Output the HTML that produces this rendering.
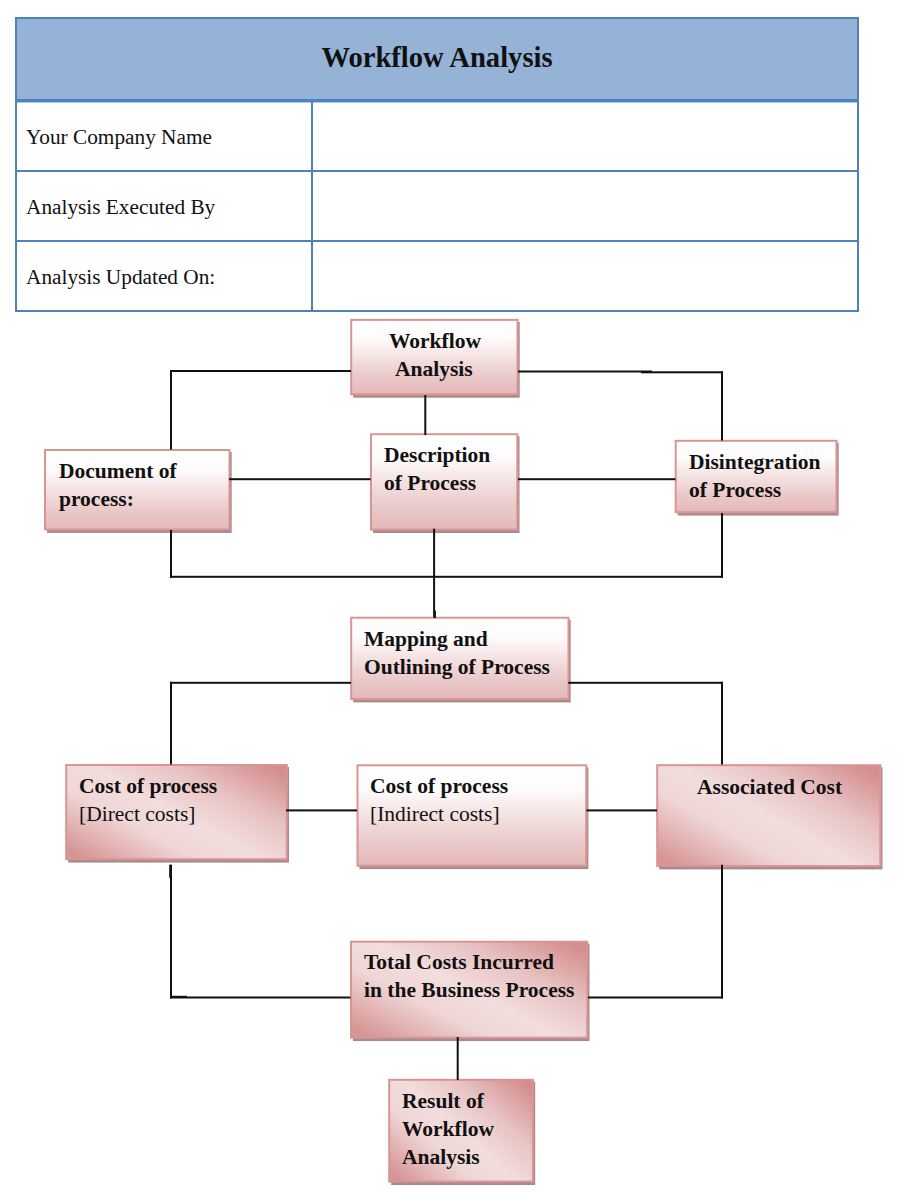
<!DOCTYPE html>
<html>
<head>
<meta charset="utf-8">
<style>
html,body{margin:0;padding:0;background:#fff;}
body{width:900px;height:1195px;position:relative;overflow:hidden;font-family:"Liberation Serif",serif;color:#111;}
.a{position:absolute;}
.dia{position:absolute;left:0;top:0;}
/* table */
.tb{position:absolute;background:#4F81BD;}
.hd{position:absolute;left:17px;top:19px;width:840px;height:80px;background:#95B3D7;}
.ttl{position:absolute;left:15px;top:0;width:844px;text-align:center;font-weight:bold;font-size:28.6px;}
.lbl{position:absolute;left:26px;font-size:21.3px;white-space:nowrap;}
/* boxes */
.t{position:absolute;font-weight:bold;font-size:21.5px;line-height:28px;white-space:nowrap;margin-top:1.5px;margin-left:-1px;}
.n{font-weight:normal;}
</style>
</head>
<body>
<!-- Table -->
<div class="tb" style="left:15px;top:17px;width:844px;height:295px;"></div>
<div class="hd"></div>
<div class="a" style="left:17px;top:102px;width:840px;height:208px;background:#fff;"></div>
<div class="tb" style="left:17px;top:99px;width:840px;height:3px;"></div>
<div class="a" style="left:17px;top:102px;width:840px;height:1px;background:rgba(79,129,189,0.45);"></div>
<div class="tb" style="left:17px;top:170px;width:840px;height:2px;"></div>
<div class="tb" style="left:17px;top:240px;width:840px;height:2px;"></div>
<div class="tb" style="left:311px;top:102px;width:2px;height:208px;"></div>
<div class="ttl" style="top:42px;">Workflow Analysis</div>
<div class="lbl" style="top:124.5px;">Your Company Name</div>
<div class="lbl" style="top:194.5px;">Analysis Executed By</div>
<div class="lbl" style="top:265px;">Analysis Updated On:</div>

<!-- Diagram -->
<svg class="dia" width="900" height="1195" viewBox="0 0 900 1195">
<defs>
<linearGradient id="gv" x1="0" y1="0" x2="0" y2="1"><stop offset="0" stop-color="#FFFFFF"/><stop offset="0.25" stop-color="#FEFBFB"/><stop offset="0.5" stop-color="#F4E2E2"/><stop offset="0.75" stop-color="#EBCACA"/><stop offset="1" stop-color="#E4B8B8"/></linearGradient>
<linearGradient id="gd" x1="1" y1="0.1" x2="0" y2="0.9"><stop offset="0" stop-color="#D58D8D"/><stop offset="0.28" stop-color="#E8C3C3"/><stop offset="0.5" stop-color="#F2DCDC"/><stop offset="0.68" stop-color="#F0D7D7"/><stop offset="0.85" stop-color="#E3B4B4"/><stop offset="1" stop-color="#D69494"/></linearGradient>
</defs>
<rect x="353.2" y="321.9" width="166.5" height="75.8" fill="#A88B8D"/>
<rect x="47.0" y="452.0" width="184.7" height="80.9" fill="#A88B8D"/>
<rect x="373.0" y="436.2" width="146.5" height="96.8" fill="#A88B8D"/>
<rect x="677.7" y="442.8" width="161.0" height="72.8" fill="#A88B8D"/>
<rect x="353.2" y="619.7" width="217.5" height="82.7" fill="#A88B8D"/>
<rect x="68.2" y="767.0" width="220.8" height="95.6" fill="#A88B8D"/>
<rect x="359.5" y="767.3" width="228.9" height="101.8" fill="#A88B8D"/>
<rect x="659.2" y="767.2" width="223.3" height="102.2" fill="#A88B8D"/>
<rect x="353.0" y="943.7" width="236.5" height="97.4" fill="#A88B8D"/>
<rect x="391.2" y="1081.8" width="144.0" height="103.2" fill="#A88B8D"/>
<rect x="351.2" y="319.9" width="166.3" height="74.4" fill="url(#gv)" stroke="#D99594" stroke-width="2"/>
<rect x="45.0" y="450.0" width="184.5" height="79.5" fill="url(#gv)" stroke="#D99594" stroke-width="2"/>
<rect x="371.0" y="434.2" width="146.3" height="95.4" fill="url(#gv)" stroke="#D99594" stroke-width="2"/>
<rect x="675.7" y="440.8" width="160.8" height="71.4" fill="url(#gv)" stroke="#D99594" stroke-width="2"/>
<rect x="351.2" y="617.7" width="217.3" height="81.3" fill="url(#gv)" stroke="#D99594" stroke-width="2"/>
<rect x="66.2" y="765.0" width="220.6" height="94.2" fill="url(#gd)" stroke="#D99594" stroke-width="2"/>
<rect x="357.5" y="765.3" width="228.7" height="100.4" fill="url(#gv)" stroke="#D99594" stroke-width="2"/>
<rect x="657.2" y="765.2" width="223.1" height="100.8" fill="url(#gd)" stroke="#D99594" stroke-width="2"/>
<rect x="351.0" y="941.7" width="236.3" height="96.0" fill="url(#gd)" stroke="#D99594" stroke-width="2"/>
<rect x="389.2" y="1079.8" width="143.8" height="101.8" fill="url(#gd)" stroke="#D99594" stroke-width="2"/>
<rect x="170" y="370" width="181" height="2" fill="#111"/>
<rect x="170" y="370" width="2" height="79.5" fill="#111"/>
<rect x="518" y="370.5" width="134" height="2" fill="#111"/>
<rect x="641" y="371.3" width="82" height="2" fill="#111"/>
<rect x="721" y="371.3" width="2" height="69.2" fill="#111"/>
<rect x="424.3" y="395" width="2" height="40" fill="#111"/>
<rect x="229" y="478.2" width="141.5" height="2" fill="#111"/>
<rect x="518" y="478.2" width="157.5" height="2" fill="#111"/>
<rect x="170" y="530" width="2" height="48" fill="#111"/>
<rect x="170" y="575.8" width="553" height="2" fill="#111"/>
<rect x="721" y="513" width="2" height="64.8" fill="#111"/>
<rect x="433.1" y="528.7" width="2" height="88.8" fill="#111"/>
<rect x="170" y="681.8" width="181" height="2" fill="#111"/>
<rect x="170" y="681.8" width="2" height="82.7" fill="#111"/>
<rect x="568.2" y="681.8" width="154.8" height="2" fill="#111"/>
<rect x="721" y="681.8" width="2" height="82.7" fill="#111"/>
<rect x="286" y="809.4" width="71" height="2" fill="#111"/>
<rect x="586.5" y="809.4" width="70.5" height="2" fill="#111"/>
<rect x="170" y="864.7" width="2" height="133.8" fill="#111"/>
<rect x="169.2" y="864.7" width="2" height="13" fill="#111"/>
<rect x="170" y="996.5" width="180.5" height="2" fill="#111"/>
<rect x="170" y="995.8" width="17" height="2" fill="#111"/>
<rect x="721" y="864.7" width="2" height="133.8" fill="#111"/>
<rect x="588" y="996.5" width="135" height="2" fill="#111"/>
<rect x="456.7" y="1037" width="2" height="43" fill="#111"/>
<rect x="434.5" y="610.6" width="1.4" height="7.5" fill="#111"/>
</svg>
<!-- Boxes -->
<div class="t" style="left:390px;top:325px;">Workflow</div>
<div class="t" style="left:396px;top:353px;">Analysis</div>

<div class="t" style="left:60px;top:455px;">Document of<br>process:</div>

<div class="t" style="left:385px;top:439px;">Description<br>of Process</div>

<div class="t" style="left:690px;top:446px;">Disintegration<br>of Process</div>

<div class="t" style="left:365px;top:623px;">Mapping and<br>Outlining of Process</div>

<div class="t" style="left:80px;top:770px;">Cost of process<br><span class="n">[Direct costs]</span></div>

<div class="t" style="left:371px;top:770px;">Cost of process<br><span class="n">[Indirect costs]</span></div>

<div class="t" style="left:698px;top:771px;">Associated Cost</div>

<div class="t" style="left:365px;top:946.5px;">Total Costs Incurred<br>in the Business Process</div>

<div class="t" style="left:403px;top:1085px;">Result of<br>Workflow<br>Analysis</div>
</body>
</html>
